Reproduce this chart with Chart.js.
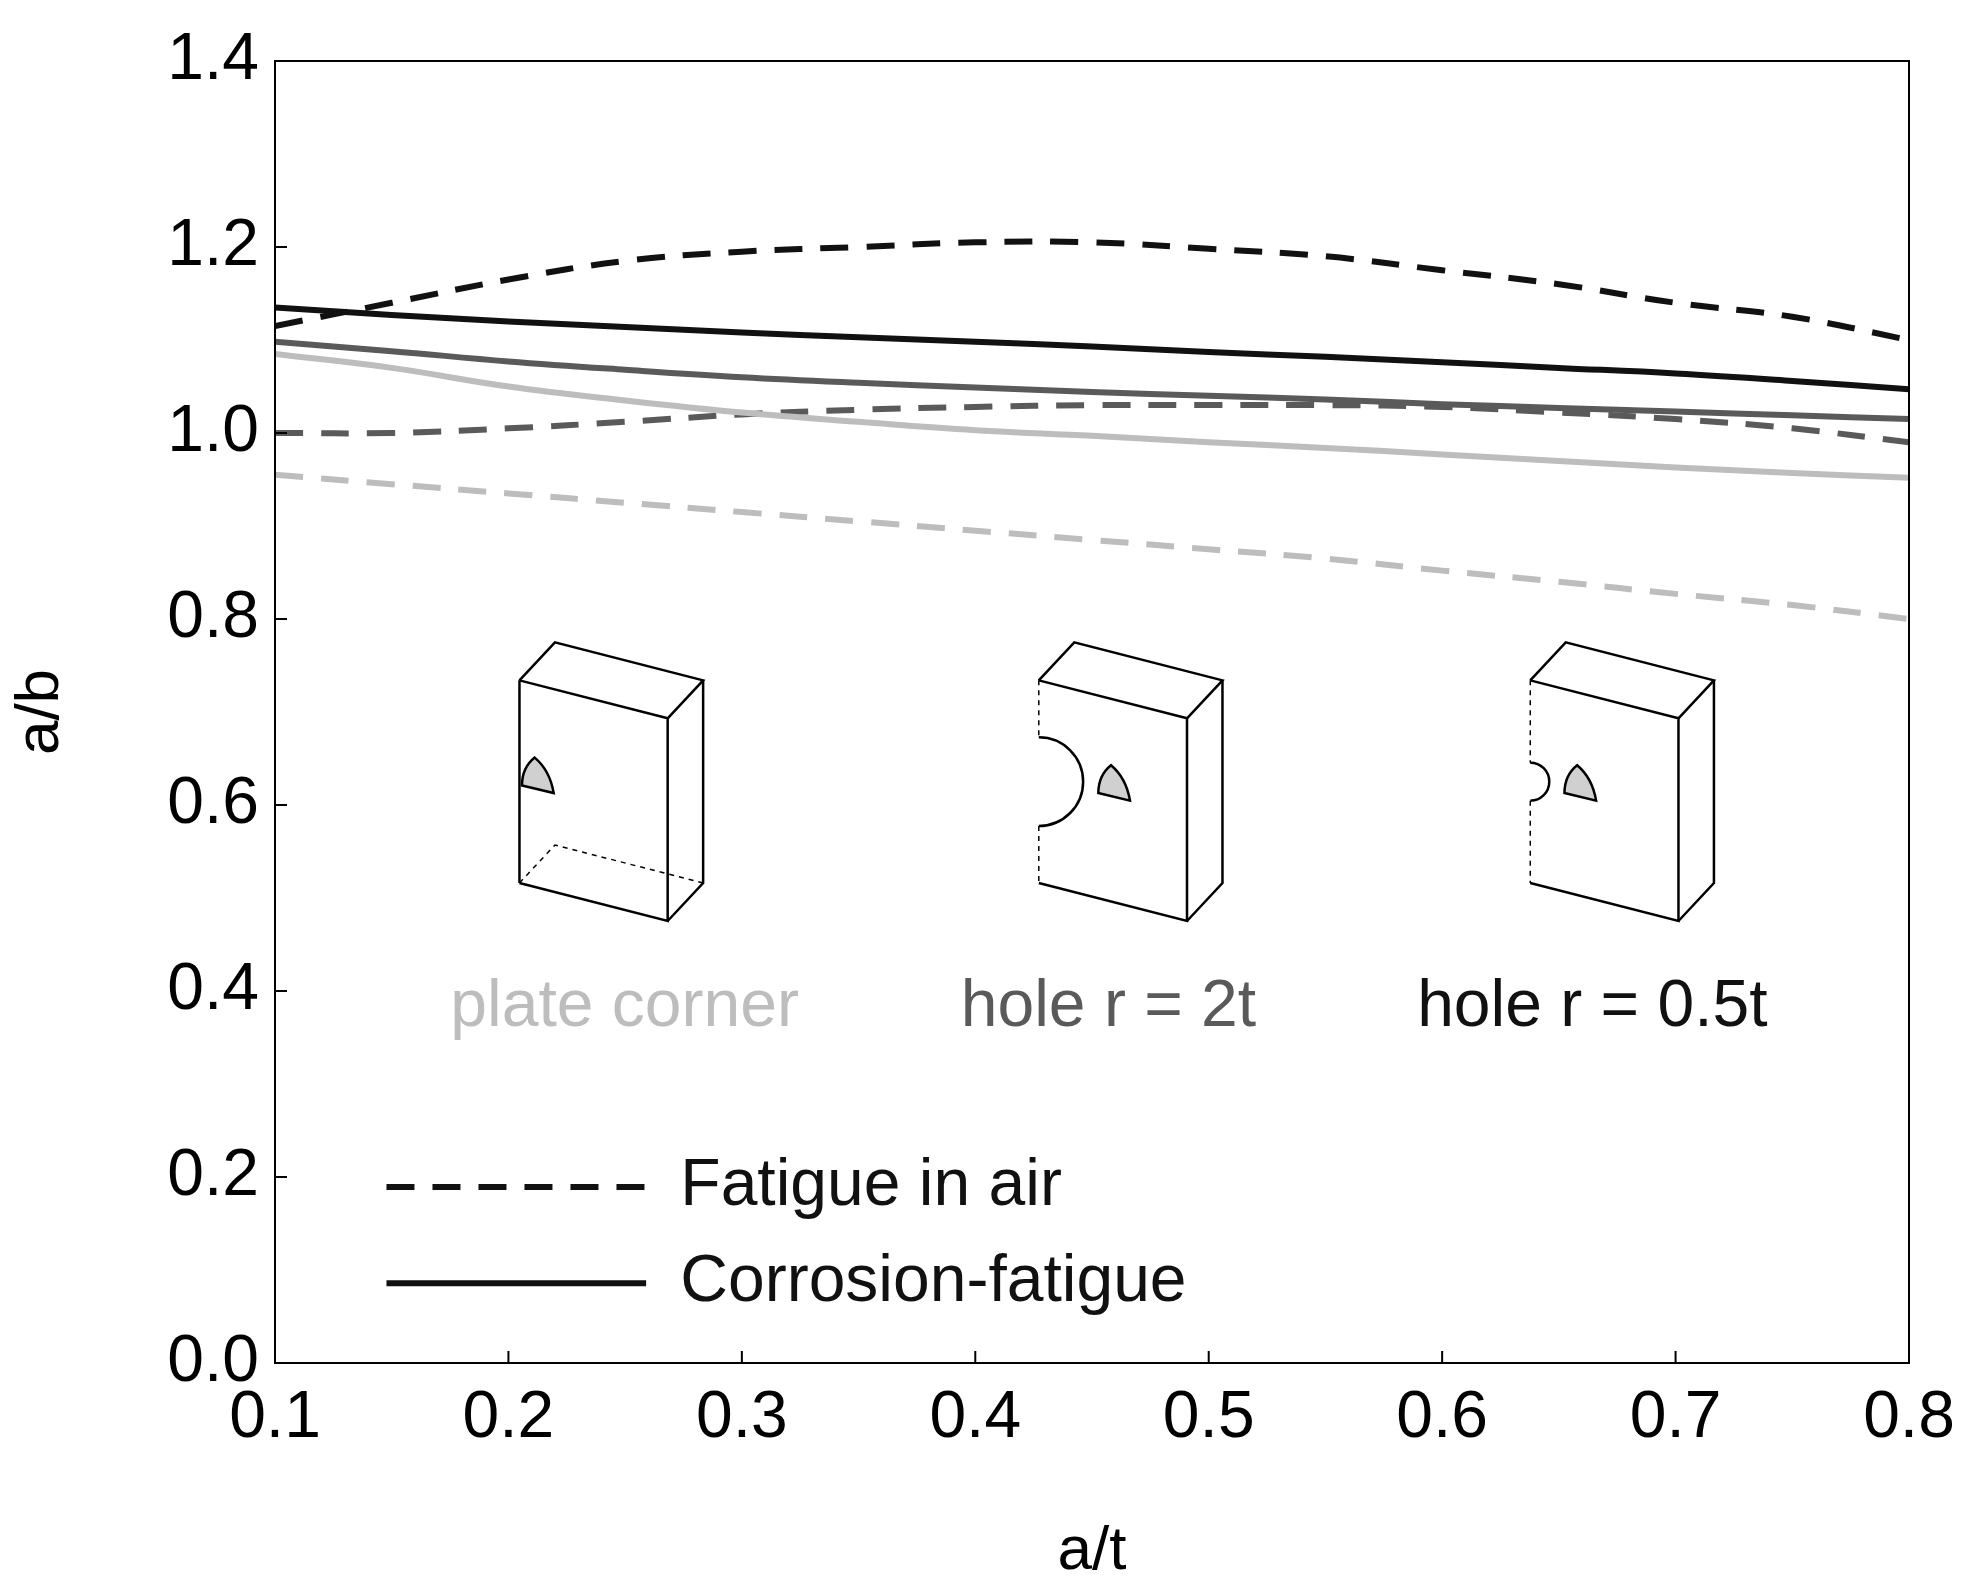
<!DOCTYPE html>
<html>
<head>
<meta charset="utf-8">
<script src="https://cdn.jsdelivr.net/npm/chart.js@4"></script>
<style>
  html, body { margin: 0; padding: 0; background: #fff; }
  #wrap { width: 1977px; height: 1593px; }
</style>
</head>
<body>
<div id="wrap"><canvas id="c"></canvas></div>
<script>
// ── Data ───────────────────────────────────────────────
const xs = [0.1, 0.15, 0.2, 0.25, 0.3, 0.35, 0.4, 0.45, 0.5, 0.55, 0.6, 0.65, 0.7, 0.75, 0.8];
const hole05Air  = [1.115, 1.14, 1.165, 1.185, 1.195, 1.2, 1.205, 1.205, 1.198, 1.19, 1.175, 1.16, 1.14, 1.125, 1.1];
const hole05Corr = [1.135, 1.127, 1.12, 1.114, 1.108, 1.103, 1.098, 1.093, 1.087, 1.082, 1.076, 1.07, 1.064, 1.056, 1.047];
const hole2Corr  = [1.098, 1.088, 1.077, 1.068, 1.06, 1.054, 1.049, 1.044, 1.04, 1.036, 1.031, 1.027, 1.023, 1.019, 1.015];
const hole2Air   = [1.0, 1.0, 1.005, 1.012, 1.02, 1.025, 1.028, 1.03, 1.03, 1.03, 1.028, 1.022, 1.015, 1.005, 0.99];
const plateCorr  = [1.085, 1.07, 1.05, 1.035, 1.022, 1.012, 1.003, 0.997, 0.99, 0.984, 0.977, 0.97, 0.963, 0.957, 0.952];
const plateAir   = [0.955, 0.945, 0.935, 0.925, 0.915, 0.905, 0.895, 0.885, 0.875, 0.865, 0.852, 0.84, 0.827, 0.815, 0.8];
const xTicks = [0.1, 0.2, 0.3, 0.4, 0.5, 0.6, 0.7, 0.8];
const yTicks = [0.0, 0.2, 0.4, 0.6, 0.8, 1.0, 1.2, 1.4];

const BLACK = "#111", DARK = "#5a5a5a", LIGHT = "#bdbdbd";
const FONT = "'Liberation Sans Narrow', 'Liberation Sans', Arial, sans-serif";
const pts = ys => xs.map((x, i) => ({ x, y: ys[i] }));
const ds = (ys, color, dashed) => ({
  data: pts(ys), borderColor: color, borderWidth: 6, pointRadius: 0,
  tension: 0.4, borderDash: dashed ? [28, 18] : [], fill: false,
});

// ── Overlay: frame, inward ticks, icons, labels, legend ─
const overlay = {
  id: "overlay",
  afterDraw(chart) {
    const { ctx, chartArea: ca, scales: { x, y } } = chart;
    // map reference-picture coordinates to the chart area
    const P = (dx, dy) => [ca.left + (dx - 217) / 1290 * ca.width, ca.top + (dy - 48) / 1028 * ca.height];
    const k = ca.width / 1290;
    ctx.save();
    ctx.strokeStyle = "#000"; ctx.lineWidth = 2;
    ctx.strokeRect(ca.left, ca.top, ca.width, ca.height);
    ctx.beginPath();
    xTicks.forEach(v => { const px = x.getPixelForValue(v); ctx.moveTo(px, ca.bottom); ctx.lineTo(px, ca.bottom - 12); });
    yTicks.forEach(v => { const py = y.getPixelForValue(v); ctx.moveTo(ca.left, py); ctx.lineTo(ca.left + 12, py); });
    ctx.stroke();

    const line = (pp, dash) => {
      ctx.setLineDash(dash ? [5, 5] : []);
      ctx.beginPath();
      pp.forEach((p, i) => { const [a, b] = P(p[0], p[1]); i ? ctx.lineTo(a, b) : ctx.moveTo(a, b); });
      ctx.stroke();
    };
    const crack = (cx, cy) => {
      const [a, b] = P(cx, cy);
      ctx.setLineDash([]);
      ctx.fillStyle = "#d0d0d0";
      ctx.beginPath();
      ctx.moveTo(a, b);
      ctx.lineTo(a + 25 * k, b + 6 * k);
      ctx.quadraticCurveTo(a + 22 * k, b - 12 * k, a + 10 * k, b - 22 * k);
      ctx.quadraticCurveTo(a, b - 14 * k, a, b);
      ctx.closePath(); ctx.fill(); ctx.stroke();
    };
    const box = (ox, hole, r) => {
      ctx.lineWidth = 2.5;
      const f = [[ox, 537], [ox + 117, 567], [ox + 117, 727], [ox, 697]];
      line([[ox, 537], [ox + 28, 507], [ox + 145, 537], [ox + 117, 567]]);
      line([[ox + 145, 537], [ox + 145, 697], [ox + 117, 727]]);
      line([f[0], f[1], f[2], f[3]]);
      if (!hole) {
        line([f[0], f[3]]);
        ctx.lineWidth = 1.5;
        line([[ox, 697], [ox + 28, 667], [ox + 145, 697]], true);
        ctx.lineWidth = 2.5;
        crack(ox + 2, 620);
      } else {
        ctx.lineWidth = 1.5;
        line([[ox, 537], [ox, 617 - r]], true);
        line([[ox, 617 + r], [ox, 697]], true);
        ctx.lineWidth = 2.5;
        ctx.setLineDash([]);
        const [a, b] = P(ox, 617);
        ctx.beginPath(); ctx.arc(a, b, r * k, -Math.PI / 2, Math.PI / 2); ctx.stroke();
        crack(ox + r + 12, 626);
      }
    };
    box(410, false, 0);
    box(820, true, 35);
    box(1208, true, 15);

    ctx.setLineDash([]);
    ctx.font = `${66}px ${FONT}`;
    ctx.textAlign = "center"; ctx.textBaseline = "alphabetic";
    const label = (t, dx, c) => { const [a, b] = P(dx, 810); ctx.fillStyle = c; ctx.fillText(t, a, b); };
    label("plate corner", 493, LIGHT);
    label("hole r = 2t", 875, DARK);
    label("hole r = 0.5t", 1257, BLACK);

    // legend
    ctx.lineWidth = 6; ctx.strokeStyle = BLACK; ctx.fillStyle = BLACK;
    ctx.textAlign = "left"; ctx.textBaseline = "middle";
    [[937, true, "Fatigue in air"], [1013, false, "Corrosion-fatigue"]].forEach(([dy, dash, t]) => {
      const [a1, b] = P(305, dy), [a2] = P(510, dy), [a3] = P(537, dy);
      ctx.setLineDash(dash ? [28, 18] : []);
      ctx.beginPath(); ctx.moveTo(a1, b); ctx.lineTo(a2, b); ctx.stroke();
      ctx.fillText(t, a3, b);
    });
    ctx.restore();
  },
};

new Chart(document.getElementById("c"), {
  type: "line",
  data: {
    datasets: [
      ds(plateAir, LIGHT, true), ds(plateCorr, LIGHT, false),
      ds(hole2Air, DARK, true), ds(hole2Corr, DARK, false),
      ds(hole05Air, BLACK, true), ds(hole05Corr, BLACK, false),
    ],
  },
  options: {
    responsive: true, maintainAspectRatio: false, animation: false,
    layout: { padding: { top: 61, right: 68, left: 0, bottom: 0 } },
    plugins: { legend: { display: false }, tooltip: { enabled: false } },
    scales: {
      x: {
        type: "linear", min: 0.1, max: 0.8,
        afterBuildTicks: s => { s.ticks = xTicks.map(v => ({ value: v })); },
        afterFit: s => { s.height = 230; },
        grid: { display: false }, border: { display: false },
        ticks: { color: "#000", font: { family: FONT, size: 66 }, padding: 8, maxRotation: 0, callback: v => v.toFixed(1) },
        title: { display: true, text: "a/t", color: "#000", font: { family: FONT, size: 62 }, padding: { top: 55 } },
      },
      y: {
        min: 0, max: 1.4,
        afterBuildTicks: s => { s.ticks = yTicks.map(v => ({ value: v })); },
        afterFit: s => { s.width = 275; },
        grid: { display: false }, border: { display: false },
        ticks: { color: "#000", font: { family: FONT, size: 66 }, padding: 8, callback: v => v.toFixed(1) },
        title: { display: true, text: "a/b", color: "#000", font: { family: FONT, size: 62 }, padding: { bottom: 40 } },
      },
    },
  },
  plugins: [overlay],
});
</script>
</body>
</html>
